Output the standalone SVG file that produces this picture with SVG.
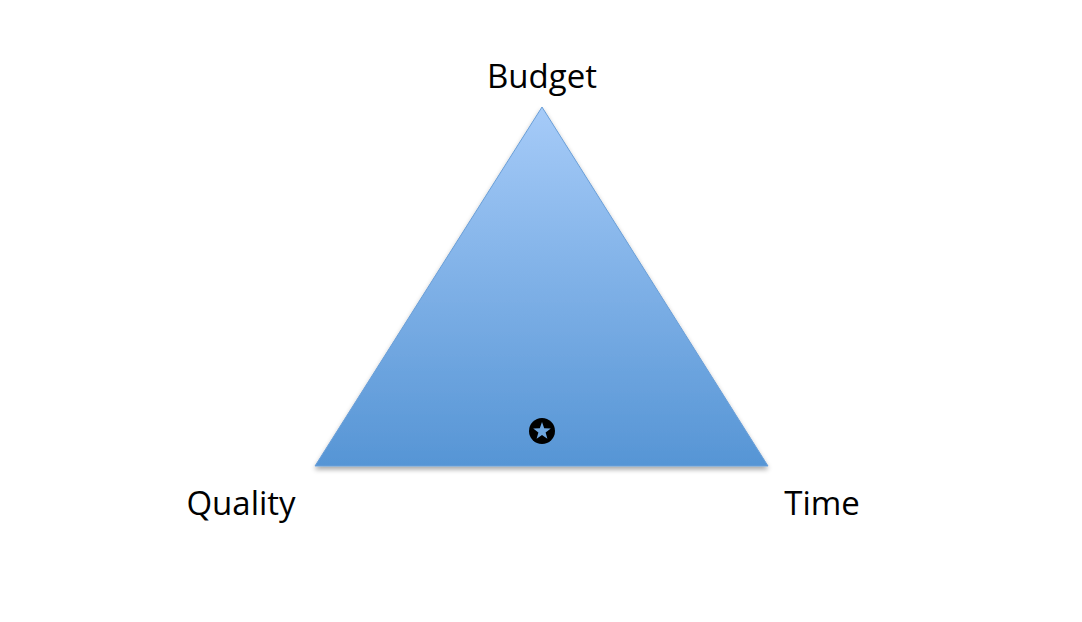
<svg xmlns="http://www.w3.org/2000/svg" width="1082" height="622" viewBox="0 0 1082 622">
<style>
.lbl{font-family:"Open Sans","Liberation Sans",sans-serif;font-size:33px;fill:#000;text-anchor:middle}
</style>
<defs>
<linearGradient id="g" x1="0" y1="0" x2="0" y2="1">
<stop offset="0" stop-color="#a6cbf8"/>
<stop offset="1" stop-color="#5695d5"/>
</linearGradient>
<filter id="sh" x="-10%" y="-10%" width="120%" height="130%">
<feGaussianBlur in="SourceAlpha" stdDeviation="2.5"/>
<feOffset dy="3" result="b"/>
<feComponentTransfer><feFuncA type="linear" slope="0.35"/></feComponentTransfer>
<feMerge><feMergeNode/><feMergeNode in="SourceGraphic"/></feMerge>
</filter>
</defs>
<rect width="1082" height="622" fill="#fff"/>
<g id="triangle">
<polygon points="542,107 315,466 768,466" fill="url(#g)" stroke="#6a9fd8" stroke-width="1" filter="url(#sh)"/>
</g>
<g id="star">
<circle cx="542" cy="431" r="13" fill="#000"/>
<polygon points="542,422 544.2,428.2 550.8,428.4 545.6,432.4 547.4,438.7 542,435 536.6,438.7 538.4,432.4 533.2,428.4 539.8,428.2" fill="#6ea6e0"/>
</g>
<g id="budget"><text class="lbl" x="542" y="88">Budget</text></g>
<g id="quality"><text class="lbl" x="241" y="515">Quality</text></g>
<g id="time"><text class="lbl" x="822" y="515">Time</text></g>
<g id="connectors"></g>
</svg>
